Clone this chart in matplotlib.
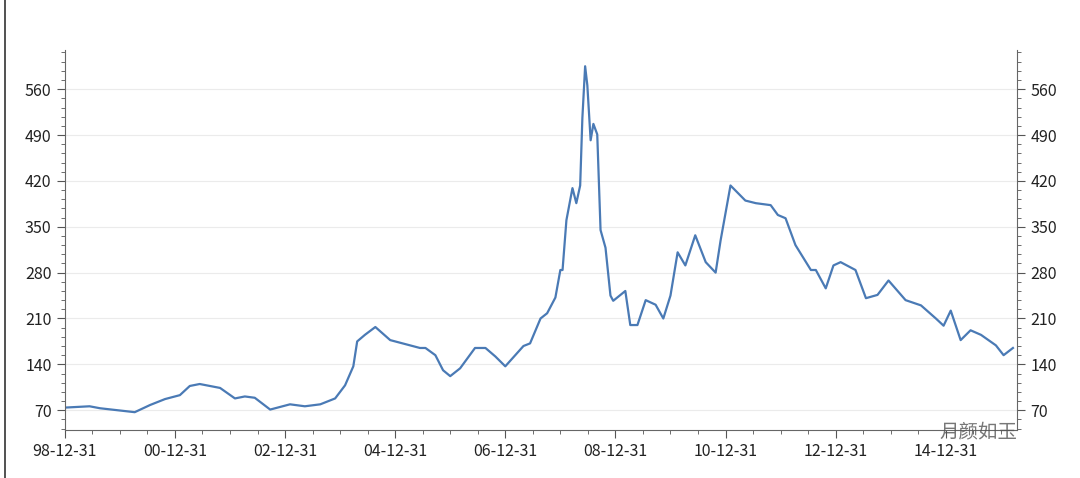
import matplotlib
matplotlib.use("Agg")
import matplotlib.pyplot as plt
from matplotlib.ticker import MultipleLocator
import numpy as np

plt.rcParams['font.family'] = ['Noto Sans CJK SC', 'DejaVu Sans']

# time expressed as fractional year (1999.0 == 98-12-31)
years = [1999.00,1999.45,1999.64,2000.27,2000.55,2000.82,2001.09,2001.27,2001.45,2001.82,2002.09,
         2002.27,2002.45,2002.73,2003.09,2003.36,2003.64,2003.91,2004.09,2004.24,2004.31,2004.45,
         2004.64,2004.91,2005.45,2005.55,2005.73,2005.87,2006.00,2006.18,2006.45,2006.64,2006.82,
         2007.00,2007.33,2007.45,2007.64,2007.76,2007.91,2008.00,2008.04,2008.11,2008.22,2008.29,
         2008.36,2008.40,2008.45,2008.49,2008.55,2008.60,2008.67,2008.73,2008.82,2008.91,2008.96,
         2009.18,2009.27,2009.40,2009.55,2009.73,2009.87,2010.00,2010.13,2010.27,2010.45,2010.64,
         2010.82,2010.91,2011.09,2011.36,2011.55,2011.82,2011.95,2012.09,2012.27,2012.55,2012.64,
         2012.82,2012.96,2013.09,2013.36,2013.55,2013.76,2013.96,2014.27,2014.55,2014.82,2014.96,
         2015.09,2015.27,2015.45,2015.64,2015.91,2016.05,2016.22]
values = [74,76,73,67,78,87,93,107,110,104,88,
          91,89,71,79,76,79,88,108,137,175,185,
          197,177,165,165,154,131,122,134,165,165,152,
          137,168,172,210,218,242,284,284,360,409,386,
          413,516,595,566,482,507,491,345,318,245,237,
          252,200,200,238,231,210,245,311,291,337,296,
          280,329,413,390,386,383,368,363,322,284,284,
          256,291,296,284,241,246,268,238,230,210,199,
          222,177,192,185,169,154,165]

ytick_vals = [70,140,210,280,350,420,490,560]
xtick_pos = [1999,2001,2003,2005,2007,2009,2011,2013,2015]
xtick_labels = ['98-12-31','00-12-31','02-12-31','04-12-31','06-12-31',
                '08-12-31','10-12-31','12-12-31','14-12-31']

fig = plt.figure(figsize=(10.8,4.78), dpi=100)
ax = fig.add_axes([0.060,0.100,0.882,0.795])
ax.plot(years, values, color='#4a7ab5', lw=1.6)
ax.set_xlim(1999.0, 2016.3)
ax.set_ylim(39.5, 619.5)
ax.set_yticks(ytick_vals)
ax.set_xticks(xtick_pos)
ax.set_xticklabels(xtick_labels)
ax.yaxis.set_minor_locator(MultipleLocator(14))
ax.xaxis.set_minor_locator(MultipleLocator(0.5))
ax.tick_params(axis='y', which='both', right=True, labelright=True, direction='out', colors='#555555', labelcolor='#222222', labelsize=11.5)
ax.tick_params(axis='y', which='major', length=6)
ax.tick_params(axis='y', which='minor', length=3)
ax.tick_params(axis='x', which='major', length=6, colors='#555555', labelcolor='#222222', labelsize=11.5)
ax.tick_params(axis='x', which='minor', length=3, colors='#555555')
ax.grid(axis='y', color='#ebebeb', lw=0.8)
ax.set_axisbelow(True)
for s in ['left','right','bottom']:
    ax.spines[s].set_color('#666666')
ax.spines['top'].set_visible(False)
fig.add_artist(plt.Line2D([0.005,0.005],[0,1], color='#333333', lw=1.2))
fig.text(0.87, 0.085, '月颜如玉', fontsize=14, color='#555555', alpha=0.8)
fig.savefig('out.png', dpi=100)
